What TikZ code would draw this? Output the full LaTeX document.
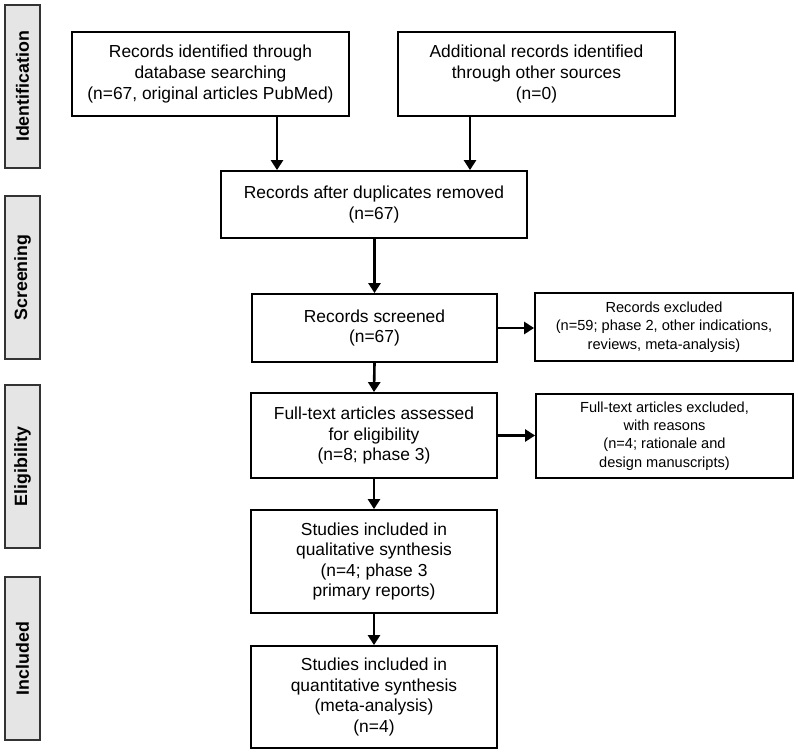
\documentclass[tikz,border=0pt]{standalone}
\usepackage{fontspec}
\setmainfont{Liberation Sans}
\usetikzlibrary{arrows.meta}
\begin{document}
\begin{tikzpicture}[x=1pt,y=-1pt,
  box/.style={draw=black, line width=1.8pt, align=center, inner sep=2pt,
    font=\fontsize{17.4}{20.6}\selectfont},
  exbox/.style={box, font=\fontsize{14.6}{18.3}\selectfont},
  phase/.style={draw=black!80, line width=1.8pt, fill=black!10, rotate=90,
    minimum width=163pt, minimum height=35pt, inner sep=0pt,
    font=\bfseries\fontsize{17.8}{20}\selectfont},
  arr/.style={line width=2.6pt, -{Triangle[width=12pt,length=10pt]}}]
\useasboundingbox (0,0) rectangle (798,754);
% phase labels
\node[phase] (pI) at (22.5,86.5) {Identification};
\node[phase] (pS) at (22.5,277.5) {Screening};
\node[phase] (pE) at (22.5,466.5) {Eligibility};
\node[phase] (pN) at (22.5,658.5) {Included};
% boxes
\node[box, minimum width=277pt, minimum height=84pt] (b1) at (210.5,74)
  {Records identified through\\database searching\\(n=67, original articles PubMed)};
\node[box, minimum width=277pt, minimum height=84pt] (b2) at (536.5,74)
  {Additional records identified\\through other sources\\(n=0)};
\node[box, minimum width=306pt, minimum height=67pt] (b3) at (374,204.5)
  {Records after duplicates removed\\(n=67)};
\node[box, minimum width=245pt, minimum height=68pt] (b4) at (374.5,328)
  {Records screened\\(n=67)};
\node[exbox, minimum width=258pt, minimum height=68pt] (e1) at (664,327)
  {Records excluded\\(n=59; phase 2, other indications,\\reviews, meta-analysis)};
\node[box, minimum width=246pt, minimum height=85pt] (b5) at (374,435.5)
  {Full-text articles assessed\\for eligibility\\(n=8; phase 3)};
\node[exbox, minimum width=257pt, minimum height=84pt] (e2) at (664.5,436)
  {Full-text articles excluded,\\with reasons\\(n=4; rationale and\\design manuscripts)};
\node[box, minimum width=246pt, minimum height=103pt] (b6) at (374,561.5)
  {Studies included in\\qualitative synthesis\\(n=4; phase 3\\primary reports)};
\node[box, minimum width=246pt, minimum height=102pt] (b7) at (374,697)
  {Studies included in\\quantitative synthesis\\(meta-analysis)\\(n=4)};
% connectors
\coordinate (c1) at (277,0);
\coordinate (c2) at (470,0);
\draw[arr] (b1.south -| c1) -- (b3.north -| c1);
\draw[arr] (b2.south -| c2) -- (b3.north -| c2);
\draw[arr] (b3.south -| b4) -- (b4.north);
\draw[arr] (b4.east) -- (e1.west |- b4.east);
\draw[arr] (b4.south) -- (b5.north);
\draw[arr] (b5.east) -- (e2.west |- b5.east);
\draw[arr] (b5.south) -- (b6.north);
\draw[arr] (b6.south) -- (b7.north);
\end{tikzpicture}
\end{document}
